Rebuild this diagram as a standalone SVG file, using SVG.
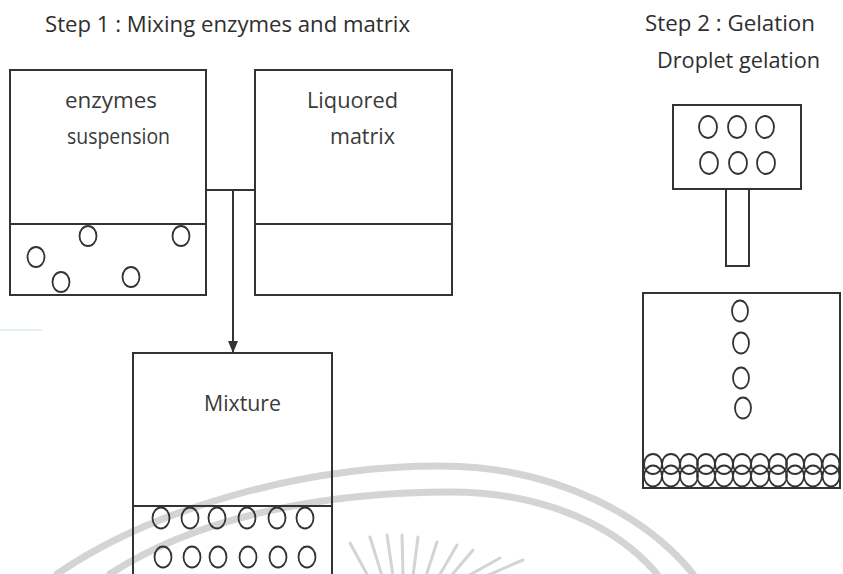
<svg xmlns="http://www.w3.org/2000/svg" width="843" height="574" viewBox="0 0 843 574">
<style>
.box{fill:none;stroke:#333;stroke-width:2}
.ln{fill:none;stroke:#333;stroke-width:2}
.c{fill:none;stroke:#333;stroke-width:1.8}
.t{font-family:"Open Sans","Noto Sans",sans-serif;font-size:21px;fill:#3a3a3a}
.h{font-family:"Open Sans","Noto Sans",sans-serif;font-size:22px;fill:#2e2e2e}
.wm{fill:none;stroke:#d4d4d4;stroke-width:7;stroke-linecap:round}
.ray{stroke:#d4d4d4;stroke-width:3;stroke-linecap:round}
</style>
<defs>
<marker id="arr" markerWidth="12" markerHeight="10" refX="12" refY="5" orient="auto" markerUnits="userSpaceOnUse" viewBox="0 0 12 10">
<path d="M0,0 L12,5 L0,10 Z" fill="#333"/>
</marker>
</defs>
<rect width="843" height="574" fill="#fff"/>
<g id="watermark">
<path class="wm" d="M57,574 C150,510 300,466 440,466 C560,466 650,520 693,574"/>
<path class="wm" d="M110,574 C200,515 330,492 450,492 C550,492 620,530 657,574"/>
<line class="ray" x1="350" y1="543" x2="368" y2="576"/>
<line class="ray" x1="370" y1="537" x2="382" y2="576"/>
<line class="ray" x1="387" y1="535" x2="393" y2="576"/>
<line class="ray" x1="402" y1="535" x2="403" y2="576"/>
<line class="ray" x1="418" y1="537" x2="413" y2="576"/>
<line class="ray" x1="437" y1="542" x2="426" y2="576"/>
<line class="ray" x1="457" y1="545" x2="439" y2="576"/>
<line class="ray" x1="473" y1="550" x2="451" y2="576"/>
<line class="ray" x1="500" y1="558" x2="468" y2="576"/>
<line class="ray" x1="523" y1="560" x2="486" y2="576"/>
<line x1="0" y1="330" x2="42" y2="330" stroke="#d8ecf2" stroke-width="1.5"/>
</g>
<g id="titles">
<text class="h" x="45" y="32" textLength="365" lengthAdjust="spacingAndGlyphs">Step 1 : Mixing enzymes and matrix</text>
<text class="h" x="645" y="31" textLength="170" lengthAdjust="spacingAndGlyphs">Step 2 : Gelation</text>
<text class="h" x="657" y="68" textLength="163" lengthAdjust="spacingAndGlyphs">Droplet gelation</text>
</g>
<g id="enzymes-suspension">
<rect class="box" x="10" y="70" width="196" height="225"/>
<line class="ln" x1="10" y1="224" x2="206" y2="224"/>
<text class="t" x="65" y="108" textLength="92" lengthAdjust="spacingAndGlyphs">enzymes</text>
<text class="t" x="67" y="144" textLength="103" lengthAdjust="spacingAndGlyphs">suspension</text>
<ellipse class="c" cx="88" cy="236" rx="8.5" ry="10"/>
<ellipse class="c" cx="181" cy="236" rx="8.5" ry="10"/>
<ellipse class="c" cx="36" cy="257" rx="8.5" ry="10"/>
<ellipse class="c" cx="61" cy="282" rx="8.5" ry="10"/>
<ellipse class="c" cx="131" cy="277" rx="8.5" ry="10"/>
</g>
<g id="liquored-matrix">
<rect class="box" x="255" y="70" width="197" height="225"/>
<line class="ln" x1="255" y1="224" x2="452" y2="224"/>
<text class="t" x="307" y="108" textLength="91" lengthAdjust="spacingAndGlyphs">Liquored</text>
<text class="t" x="330" y="144" textLength="65" lengthAdjust="spacingAndGlyphs">matrix</text>
</g>
<g id="connectors">
<line class="ln" x1="206" y1="190" x2="255" y2="190"/>
<line class="ln" x1="233" y1="190" x2="233" y2="353" marker-end="url(#arr)"/>
</g>
<g id="mixture">
<path class="box" d="M133,580 L133,353 L332,353 L332,580"/>
<line class="ln" x1="133" y1="506" x2="332" y2="506"/>
<text class="t" x="204" y="411" textLength="77" lengthAdjust="spacingAndGlyphs">Mixture</text>
<ellipse class="c" cx="161" cy="518" rx="8.5" ry="10.5"/>
<ellipse class="c" cx="190" cy="518" rx="8.5" ry="10.5"/>
<ellipse class="c" cx="217" cy="518" rx="8.5" ry="10.5"/>
<ellipse class="c" cx="247" cy="518" rx="8.5" ry="10.5"/>
<ellipse class="c" cx="277" cy="518" rx="8.5" ry="10.5"/>
<ellipse class="c" cx="305" cy="518" rx="8.5" ry="10.5"/>
<ellipse class="c" cx="163" cy="557" rx="8.5" ry="10.5"/>
<ellipse class="c" cx="192" cy="557" rx="8.5" ry="10.5"/>
<ellipse class="c" cx="218" cy="557" rx="8.5" ry="10.5"/>
<ellipse class="c" cx="248" cy="557" rx="8.5" ry="10.5"/>
<ellipse class="c" cx="278" cy="557" rx="8.5" ry="10.5"/>
<ellipse class="c" cx="307" cy="557" rx="8.5" ry="10.5"/>
</g>
<g id="dropper">
<rect class="box" x="673" y="105" width="128" height="84"/>
<rect class="box" x="726" y="189" width="23" height="77"/>
<ellipse class="c" cx="708" cy="127" rx="9" ry="11"/>
<ellipse class="c" cx="737" cy="127" rx="9" ry="11"/>
<ellipse class="c" cx="765" cy="127" rx="9" ry="11"/>
<ellipse class="c" cx="709" cy="163" rx="9" ry="11"/>
<ellipse class="c" cx="738" cy="163" rx="9" ry="11"/>
<ellipse class="c" cx="766" cy="163" rx="9" ry="11"/>
</g>
<g id="gelation-bath">
<rect class="box" x="643" y="293" width="197" height="195"/>
<ellipse class="c" cx="740" cy="311" rx="8" ry="10.5"/>
<ellipse class="c" cx="741" cy="343" rx="8" ry="10.5"/>
<ellipse class="c" cx="741" cy="378" rx="8" ry="10.5"/>
<ellipse class="c" cx="743" cy="408" rx="8" ry="10.5"/>
<g id="beads-top">
<ellipse class="c" cx="653" cy="464" rx="9" ry="10"/>
<ellipse class="c" cx="671" cy="464" rx="9" ry="10"/>
<ellipse class="c" cx="689" cy="464" rx="9" ry="10"/>
<ellipse class="c" cx="706" cy="464" rx="9" ry="10"/>
<ellipse class="c" cx="724" cy="464" rx="9" ry="10"/>
<ellipse class="c" cx="742" cy="464" rx="9" ry="10"/>
<ellipse class="c" cx="760" cy="464" rx="9" ry="10"/>
<ellipse class="c" cx="778" cy="464" rx="9" ry="10"/>
<ellipse class="c" cx="795" cy="464" rx="9" ry="10"/>
<ellipse class="c" cx="813" cy="464" rx="9" ry="10"/>
<ellipse class="c" cx="831" cy="464" rx="8.5" ry="10"/>
</g>
<g id="beads-bottom">
<ellipse class="c" cx="653" cy="476" rx="9" ry="10.5"/>
<ellipse class="c" cx="671" cy="476" rx="9" ry="10.5"/>
<ellipse class="c" cx="689" cy="476" rx="9" ry="10.5"/>
<ellipse class="c" cx="706" cy="476" rx="9" ry="10.5"/>
<ellipse class="c" cx="724" cy="476" rx="9" ry="10.5"/>
<ellipse class="c" cx="742" cy="476" rx="9" ry="10.5"/>
<ellipse class="c" cx="760" cy="476" rx="9" ry="10.5"/>
<ellipse class="c" cx="778" cy="476" rx="9" ry="10.5"/>
<ellipse class="c" cx="795" cy="476" rx="9" ry="10.5"/>
<ellipse class="c" cx="813" cy="476" rx="9" ry="10.5"/>
<ellipse class="c" cx="831" cy="476" rx="8.5" ry="10.5"/>
</g>
</g>
</svg>
